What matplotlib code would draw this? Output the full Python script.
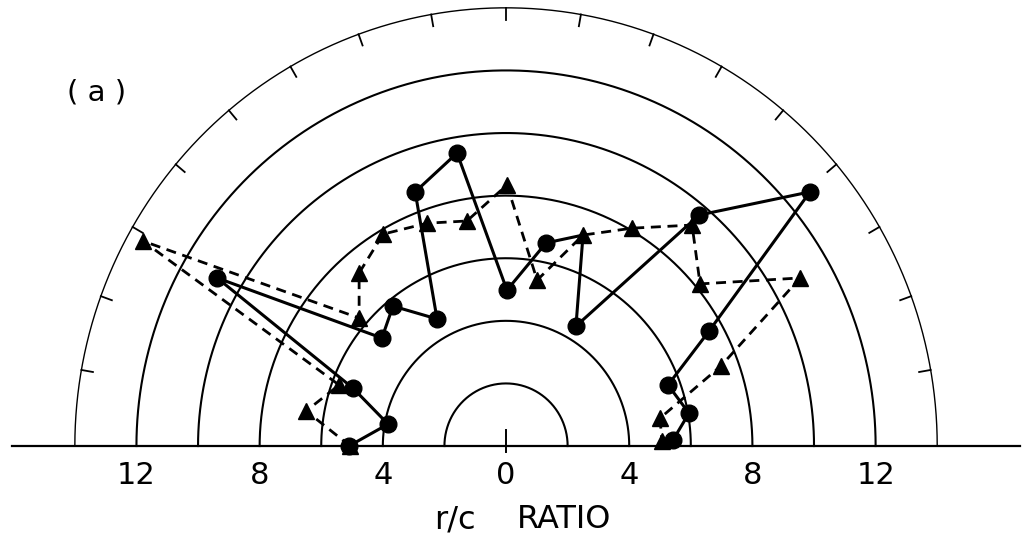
import numpy as np
import matplotlib.pyplot as plt

# r/c ratio readings, polar layout (x = horizontal, y = vertical)
circ_x = [-5.1, -3.83, -4.97, -9.38, -4.03, -3.67, -2.24, -2.95, -1.59, 0.03,
          1.30, 2.50, 2.27, 6.27, 9.87, 6.59, 5.26, 5.94, 5.42]
circ_y = [0.0, 0.70, 1.85, 5.37, 3.45, 4.47, 4.06, 8.12, 9.36, 4.98,
          6.49, 6.74, 3.83, 7.38, 8.12, 3.67, 1.95, 1.05, 0.19]
circ_hidden = [11]  # vertex sits under a triangle

tri_x = [-5.06, -6.49, -5.42, -11.79, -4.77, -4.77, -3.99, -2.56, -1.27, 0.03,
         1.01, 2.50, 4.09, 6.04, 6.30, 9.55, 6.98, 5.00, 5.06]
tri_y = [0.0, 1.12, 1.95, 6.55, 4.09, 5.53, 6.77, 7.12, 7.19, 8.34,
         5.30, 6.74, 6.96, 7.06, 5.18, 5.37, 2.56, 0.89, 0.16]

ring_radii = [2, 4, 6, 8, 10, 12, 14]
tick_pos = [-12, -8, -4, 0, 4, 8, 12]
tick_labels = ["12", "8", "4", "0", "4", "8", "12"]

fig = plt.figure(figsize=(10.29, 5.39), dpi=100)
ax = fig.add_axes([0, 0, 1, 1])
ax.set_xlim(-16.43, 16.98)
ax.set_ylim(-2.97, 14.25)
ax.axis("off")

# semicircle grid
theta = np.linspace(0, np.pi, 400)
for r in ring_radii:
    lw = 1.0 if r == 14 else 1.5
    ax.plot(r * np.cos(theta), r * np.sin(theta), color="black", lw=lw)

# angle ticks on the outer ring, every 10 degrees
for deg in range(10, 180, 10):
    a = np.radians(deg)
    ax.plot([14 * np.cos(a), 13.62 * np.cos(a)],
            [14 * np.sin(a), 13.62 * np.sin(a)], color="black", lw=1.3)

# baseline and zero tick
ax.plot([-16.05, 16.7], [0, 0], color="black", lw=1.6)
ax.plot([0, 0], [0.52, -0.2], color="black", lw=1.4)

# dashed series (triangles)
ax.plot(tri_x, tri_y, color="black", lw=2.0, dashes=(3.6, 2.4))
ax.plot(tri_x, tri_y, ls="none", marker="^", ms=12, color="black")

# solid series (circles)
ax.plot(circ_x, circ_y, color="black", lw=2.2)
shown = [i for i in range(len(circ_x)) if i not in circ_hidden]
ax.plot([circ_x[i] for i in shown], [circ_y[i] for i in shown],
        ls="none", marker="o", ms=12, color="black")

for xp, lab in zip(tick_pos, tick_labels):
    ax.text(xp, -0.95, lab, ha="center", va="center", fontsize=22)

# axis title, two words set apart
ax.text(-1.66, -2.36, "r/c", ha="center", va="center", fontsize=23)
ax.text(1.88, -2.36, "RATIO", ha="center", va="center", fontsize=23)
ax.text(-13.3, 11.28, "( a )", ha="center", va="center", fontsize=21)

plt.savefig("out.png", dpi=100)
plt.close(fig)
